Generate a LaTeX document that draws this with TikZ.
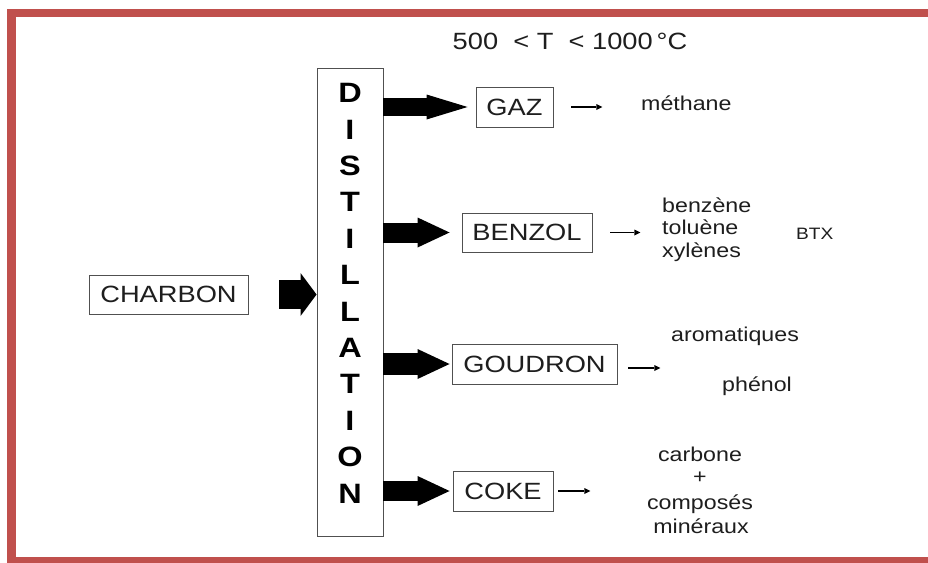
\documentclass[tikz,border=0pt]{standalone}
\usepackage{fontspec}
\setmainfont[FakeStretch=1.16]{Liberation Sans}
\usepackage{xcolor}
\usepackage{tikz}
\usetikzlibrary{arrows.meta,positioning}
\definecolor{dsRed}{HTML}{C0504D}
\definecolor{dsInk}{HTML}{1E1E1E}
\definecolor{dsLine}{HTML}{505050}
\tikzset{
  ds diagram/.style={x=1pt, y=-1pt, text=dsInk},
  ds box/.style={draw=dsLine, fill=white, line width=0.9pt, inner sep=0pt,
    minimum height=40pt, font=\fontsize{23.5}{28}\selectfont},
  ds letter/.style={font=\fontsize{28}{30}\selectfont\bfseries, text=black, inner sep=0pt},
  ds block/.style={draw=black, line width=20pt,
    -{Triangle[length=32pt,width=30pt,line width=0pt]}},
  ds thin/.style={draw=black, line width=1.5pt, -{Triangle[length=6pt,width=6pt,line width=0pt]}},
  ds product/.style={font=\fontsize{20}{22.5}\selectfont, inner sep=0pt},
  ds frame/.style={draw=dsRed, line width=8.5pt}
}

\begin{document}
\begin{tikzpicture}[ds diagram]
\useasboundingbox (0,0) rectangle (928,562);
\fill[white] (0,0) rectangle (928,562);
% cadre
\draw[ds frame] (11.5,13) rectangle (945,561);

\node[ds box, draw=none, fill=none] (temp) at (570,41.5) {500 \ < T \ < 1000\,°C};

% distillation
\node[ds box, minimum width=66pt, minimum height=468pt] (dist) at (350,302) {};
\foreach \l [count=\i from 0] in {D,I,S,T,I,L,L,A,T,I,O,N}
  \node[ds letter] (l\i) at (350,93+36.4*\i) {\l};

\node[ds box, minimum width=159pt, minimum height=39pt] (charbon) at (168.5,294.5) {CHARBON};
\node[ds box, minimum width=77pt] (gaz) at (514.5,107) {GAZ};
\node[ds box, minimum width=130pt, minimum height=39pt] (benzol) at (527,232.5) {BENZOL};
\node[ds box, minimum width=165pt] (goudron) at (534.5,364) {GOUDRON};
\node[ds box, minimum width=100pt] (coke) at (503,491) {COKE};

% fleches epaisses
\draw[draw=black, line width=29pt, -{Triangle[length=16pt,width=43pt,line width=0pt]}]
  ([xshift=31pt]charbon.east) -- (dist.west |- charbon.east);
\draw[ds block, -{Triangle[length=41pt,width=25pt,line width=0pt]}, line width=18pt, shorten >=8pt]
  (dist.east |- gaz.west) -- (gaz.west);
\draw[ds block, shorten >=12pt] (dist.east |- benzol.west) -- (benzol.west);
\draw[ds block, line width=22pt, shorten >=2pt] (dist.east |- goudron.west) -- (goudron.west);
\draw[ds block, shorten >=3pt] (dist.east |- coke.west) -- (coke.west);

% produits
\node[ds product, anchor=base west] (methane) at (641,110) {méthane};
\node[ds product, anchor=base west] (benzene) at (662,212) {benzène};
\node[ds product, anchor=base west] (toluene) at (662,234.5) {toluène};
\node[ds product, anchor=base west] (xylenes) at (662,257) {xylènes};
\node[ds product, anchor=base west, font=\fontsize{16.5}{18}\selectfont] (btx) at (796,239) {BTX};
\node[ds product, anchor=base west] (aroma) at (671,341) {aromatiques};
\node[ds product, anchor=base west] (phenol) at (722,391) {phénol};
\node[ds product, anchor=base] (carbone) at (700,461) {carbone};
\node[ds product, anchor=base] (plus) at (700,483) {+};
\node[ds product, anchor=base] (composes) at (700,509) {composés};
\node[ds product, anchor=base] (mineraux) at (701,533) {minéraux};

% fleches fines
\draw[ds thin] ([xshift=18pt]gaz.east) -- ++(31pt,0);
\draw[ds thin] ([xshift=18pt]benzol.east) -- ++(30pt,0);
\draw[ds thin] ([xshift=11pt,yshift=-4pt]goudron.east) -- ++(32pt,0);
\draw[ds thin] ([xshift=5pt]coke.east) -- ++(32pt,0);
\end{tikzpicture}
\end{document}
